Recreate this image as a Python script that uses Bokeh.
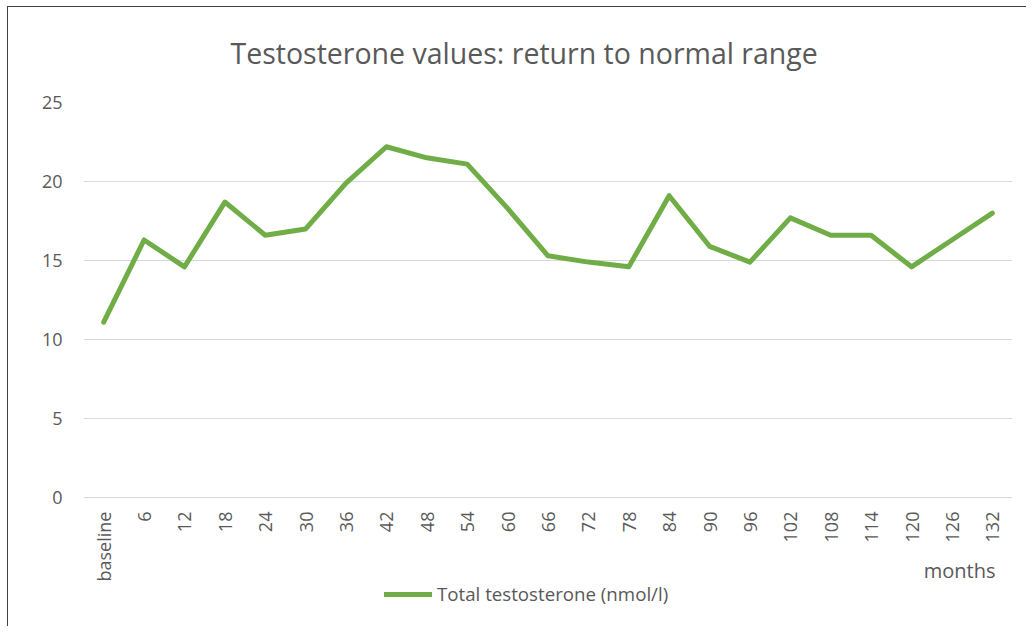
import math
from bokeh.plotting import figure
from bokeh.models import FactorRange, Range1d, FixedTicker, Legend, LegendItem, Label
from bokeh.embed import file_html
from bokeh.resources import INLINE

months = ["baseline", "6", "12", "18", "24", "30", "36", "42", "48", "54", "60", "66",
          "72", "78", "84", "90", "96", "102", "108", "114", "120", "126", "132"]
testosterone = [11.1, 16.3, 14.6, 18.7, 16.6, 17.0, 19.9, 22.2, 21.5, 21.1, 18.3, 15.3,
                14.9, 14.6, 19.1, 15.9, 14.9, 17.7, 16.6, 16.6, 14.6, 16.3, 18.0]
y_ticks = [0, 5, 10, 15, 20, 25]

FONT = "Open Sans"
GREY = "#595959"
BORDER = "#3f3f3f"

# frame extends to the bottom of the canvas; the x axis sits at y = 0
p = figure(width=1026, height=626, x_range=FactorRange(*months, range_padding=0),
           y_range=Range1d(-8.16, 25), output_backend="svg", toolbar_location=None,
           min_border_left=83, min_border_right=14, min_border_top=102, min_border_bottom=0,
           title="Testosterone values: return to normal range")
# chart-area border (left and top edges only are inside the window)
p.styles = {
    "background-color": "white",
    "background-image": f"linear-gradient({BORDER}, {BORDER}), linear-gradient({BORDER}, {BORDER})",
    "background-size": "1px 100%, 100% 1px",
    "background-position": "7px 6px, 7px 6px",
    "background-repeat": "no-repeat",
}
p.outline_line_color = None
p.background_fill_color = "white"
p.border_fill_alpha = 0

p.title.align = "left"
p.title.offset = 147
p.title.text_font = FONT
p.title.text_font_size = "28.5px"
p.title.text_font_style = "normal"
p.title.text_color = GREY
p.title.standoff = 62

r = p.line(x=months, y=testosterone, line_color="#70AD47", line_width=5,
           line_join="round", line_cap="round")

p.yaxis.ticker = FixedTicker(ticks=y_ticks)
for ax in (p.xaxis[0], p.yaxis[0]):
    ax.axis_line_color = None
    ax.major_tick_line_color = None
    ax.minor_tick_line_color = None
    ax.major_label_text_font = FONT
    ax.major_label_text_font_size = "18px"
    ax.major_label_text_color = GREY
p.yaxis.major_label_standoff = 15
p.xaxis.fixed_location = 0
p.xaxis.major_label_standoff = 8
p.xaxis.major_label_orientation = math.pi / 2

p.xgrid.grid_line_color = None
p.ygrid.grid_line_color = "#d9d9d9"
p.ygrid.grid_line_width = 1

months_label = Label(x=912, y=56, x_units="screen", y_units="screen", text="months",
                     text_align="right", text_baseline="alphabetic",
                     text_font=FONT, text_font_size="20px", text_color=GREY)
p.add_layout(months_label)

legend = Legend(items=[LegendItem(label="Total testosterone (nmol/l)", renderers=[r])],
                location=(301, 20), orientation="horizontal",
                label_text_font=FONT, label_text_font_size="18.7px", label_text_color=GREY,
                glyph_width=48, glyph_height=20, label_standoff=5, padding=0, margin=0,
                border_line_color=None, background_fill_alpha=0)
p.add_layout(legend)

open("out.html", "w").write(file_html(p, INLINE))
